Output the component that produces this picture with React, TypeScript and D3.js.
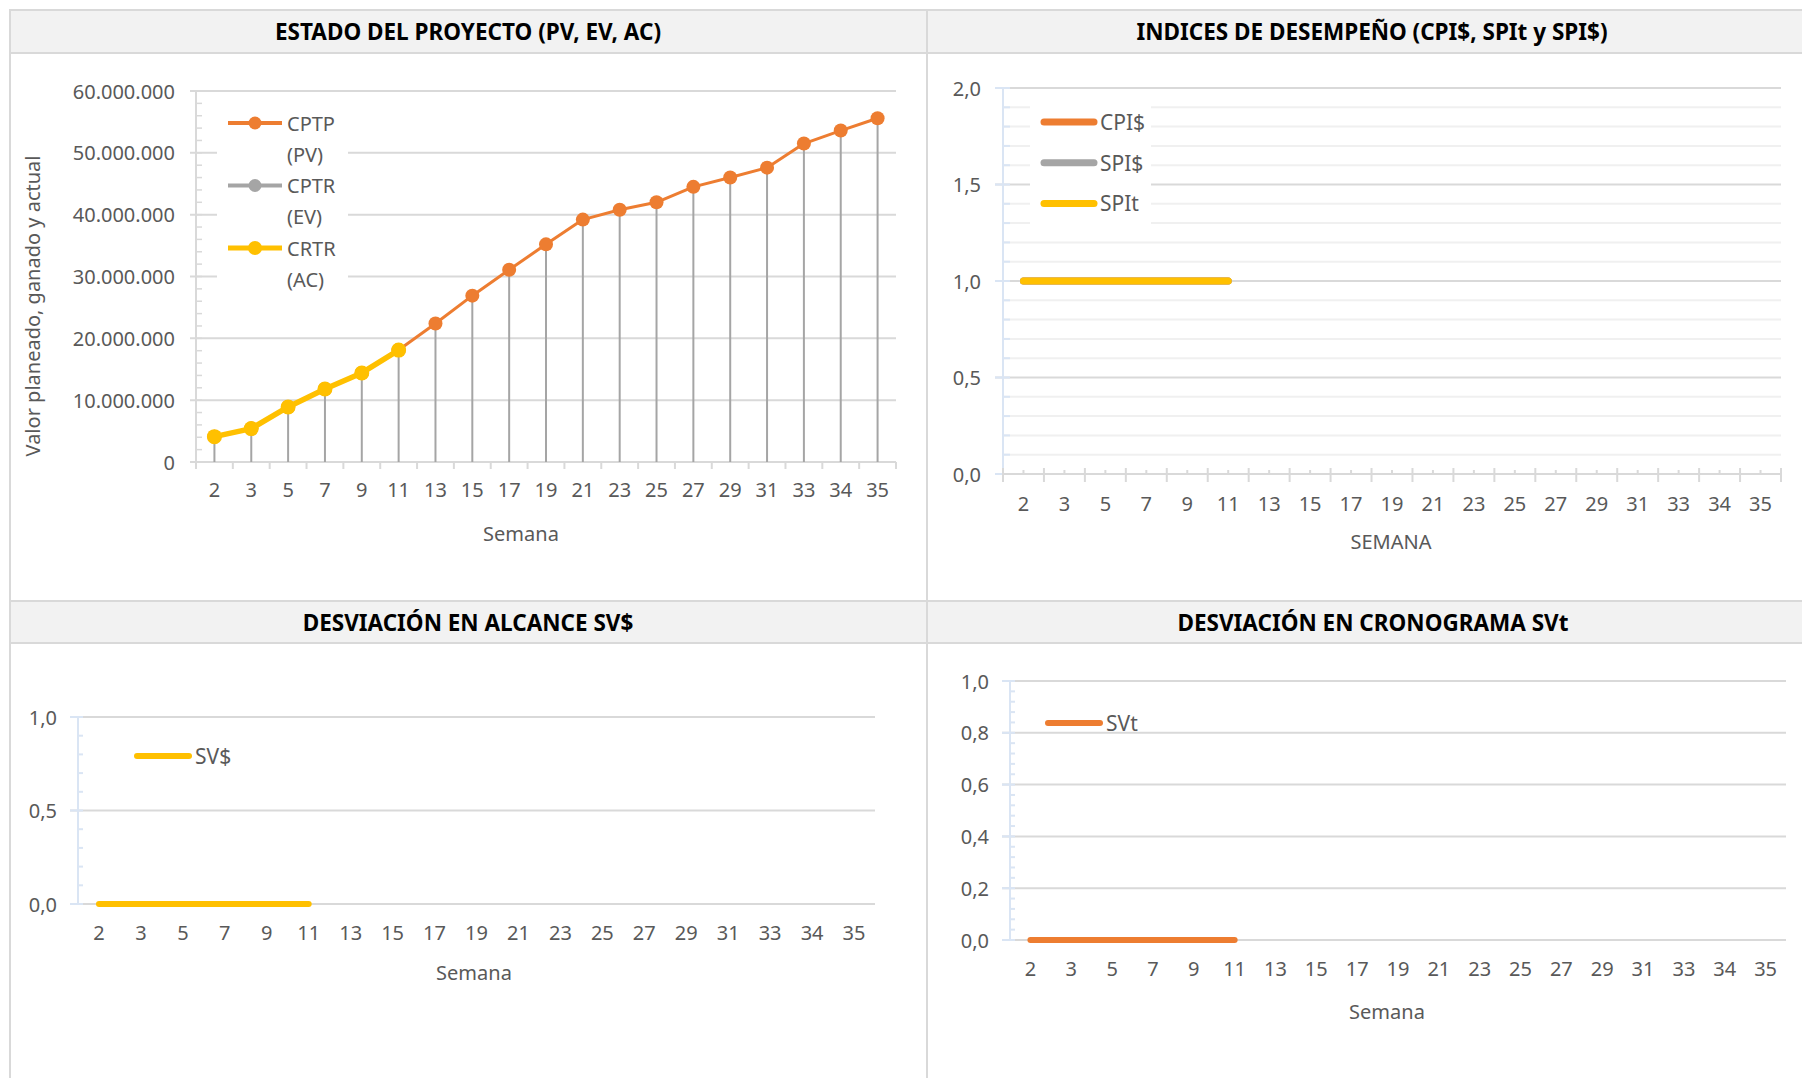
import React from "react";
import * as d3 from "d3";

// Semanas del proyecto
const semanas = ["2", "3", "5", "7", "9", "11", "13", "15", "17", "19", "21", "23", "25", "27", "29", "31", "33", "34", "35"];

// Costo presupuestado del trabajo programado (PV)
const cptpPV = [4.1, 5.4, 8.9, 11.8, 14.4, 18.1, 22.4, 26.9, 31.1, 35.2, 39.2, 40.8, 42.0, 44.5, 46.0, 47.6, 51.5, 53.6, 55.6].map((v) => v * 1e6);
// Costo presupuestado del trabajo realizado (EV)
const cptrEV = [4.1, 5.4, 8.9, 11.8, 14.4, 18.1].map((v) => v * 1e6);
// Costo real del trabajo realizado (AC)
const crtrAC = [4.1, 5.4, 8.9, 11.8, 14.4, 18.1].map((v) => v * 1e6);

// Índices de desempeño
const cpi = [1, 1, 1, 1, 1, 1];
const spiDinero = [1, 1, 1, 1, 1, 1];
const spiTiempo = [1, 1, 1, 1, 1, 1];

// Desviaciones
const svDinero = [0, 0, 0, 0, 0, 0];
const svTiempo = [0, 0, 0, 0, 0, 0];

const yTicksPV = [0, 10e6, 20e6, 30e6, 40e6, 50e6, 60e6];
const yTicksIdx = [0, 0.5, 1, 1.5, 2];
const yTicksSV = [0, 0.5, 1];
const yTicksSVt = [0, 0.2, 0.4, 0.6, 0.8, 1];

const ORANGE = "#ED7D31";
const GRAY = "#A5A5A5";
const YELLOW = "#FFC000";
const GRID = "#D9D9D9";
const MINOR = "#F0F0F0";
const AXISBLUE = "#DAE5F4";
const TEXT = "#595959";
const BORDER = "#D9D9D9";
const FONT = "'Noto Sans', 'DejaVu Sans', sans-serif";

const fmtMiles = (v: number) => d3.format(",.0f")(v).replace(/,/g, ".");
const fmtComa = (v: number) => d3.format(".1f")(v).replace(".", ",");

function Panel({ x, y, w, headerH, title, titleX }: any) {
  return (
    <g>
      <rect x={x} y={y} width={w} height={headerH} fill="#F2F2F2" />
      <line x1={x} x2={x + w} y1={y} y2={y} stroke={BORDER} strokeWidth={2} />
      <line x1={x} x2={x + w} y1={y + headerH} y2={y + headerH} stroke={BORDER} strokeWidth={2} />
      <text x={titleX} y={y + headerH / 2} textAnchor="middle" dominantBaseline="central" fontFamily={FONT} fontWeight={700} fontSize={22.5} fill="#000">
        {title}
      </text>
    </g>
  );
}

function XLabels({ x, yPos }: any) {
  return (
    <g>
      {semanas.map((s) => (
        <text key={s} x={(x(s) as number) + x.bandwidth() / 2} y={yPos} textAnchor="middle" dominantBaseline="central" fontFamily={FONT} fontSize={20} fill={TEXT}>
          {s}
        </text>
      ))}
    </g>
  );
}

function ChartEstado() {
  const x = d3.scaleBand<string>().domain(semanas).range([196, 896]);
  const y = d3.scaleLinear().domain([0, 60e6]).range([462, 91]);
  const cx = (i: number) => (x(semanas[i]) as number) + x.bandwidth() / 2;
  const line = d3.line<number>().x((_, i) => cx(i)).y((d) => y(d));
  const minor = d3.range(0, 60e6 + 1, 2e6);
  const legend = [
    { a: "CPTP", b: "(PV)", c: ORANGE, w: 4, r: 6.5 },
    { a: "CPTR", b: "(EV)", c: GRAY, w: 4, r: 6.5 },
    { a: "CRTR", b: "(AC)", c: YELLOW, w: 5, r: 7 },
  ];
  return (
    <g>
      {yTicksPV.map((t) => (
        <g key={t}>
          <line x1={190} x2={896} y1={y(t)} y2={y(t)} stroke={GRID} strokeWidth={2} />
          <text x={175} y={y(t)} textAnchor="end" dominantBaseline="central" fontFamily={FONT} fontSize={20} fill={TEXT}>
            {fmtMiles(t)}
          </text>
        </g>
      ))}
      {minor.map((t) => (
        <line key={t} x1={196} x2={202} y1={y(t)} y2={y(t)} stroke={GRID} strokeWidth={1.5} />
      ))}
      <line x1={196} x2={196} y1={y(60e6)} y2={y(0)} stroke={GRID} strokeWidth={2} />
      {semanas.map((s) => (
        <line key={s} x1={x(s) as number} x2={x(s) as number} y1={y(0)} y2={y(0) + 7} stroke={GRID} strokeWidth={2} />
      ))}
      <line x1={896} x2={896} y1={y(0)} y2={y(0) + 7} stroke={GRID} strokeWidth={2} />
      {/* líneas de proyección */}
      {cptpPV.map((v, i) => (
        <line key={i} x1={cx(i)} x2={cx(i)} y1={y(v)} y2={y(0)} stroke={GRAY} strokeWidth={2} />
      ))}
      <path d={line(cptpPV) as string} fill="none" stroke={ORANGE} strokeWidth={3} strokeLinejoin="round" />
      {cptpPV.map((v, i) => (
        <circle key={i} cx={cx(i)} cy={y(v)} r={7} fill={ORANGE} />
      ))}
      <path d={line(cptrEV) as string} fill="none" stroke={GRAY} strokeWidth={3} strokeLinejoin="round" />
      {cptrEV.map((v, i) => (
        <circle key={i} cx={cx(i)} cy={y(v)} r={7} fill={GRAY} />
      ))}
      <path d={line(crtrAC) as string} fill="none" stroke={YELLOW} strokeWidth={5.5} strokeLinejoin="round" />
      {crtrAC.map((v, i) => (
        <circle key={i} cx={cx(i)} cy={y(v)} r={7.5} fill={YELLOW} />
      ))}
      <XLabels x={x} yPos={489} />
      <text x={521} y={533} textAnchor="middle" dominantBaseline="central" fontFamily={FONT} fontSize={20} fill={TEXT}>
        Semana
      </text>
      <text transform="translate(32,306) rotate(-90)" textAnchor="middle" dominantBaseline="central" fontFamily={FONT} fontSize={20} fill={TEXT}>
        Valor planeado, ganado y actual
      </text>
      <rect x={217} y={100} width={131} height={195} fill="#fff" />
      {legend.map((l, i) => {
        const ly = 123 + i * 62.5;
        return (
          <g key={l.a}>
            <line x1={228} x2={282} y1={ly} y2={ly} stroke={l.c} strokeWidth={l.w} />
            <circle cx={255} cy={ly} r={l.r} fill={l.c} />
            <text x={287} y={ly} dominantBaseline="central" fontFamily={FONT} fontSize={20} fill={TEXT}>
              {l.a}
            </text>
            <text x={287} y={ly + 31} dominantBaseline="central" fontFamily={FONT} fontSize={20} fill={TEXT}>
              {l.b}
            </text>
          </g>
        );
      })}
    </g>
  );
}

function ChartIndices() {
  const x = d3.scaleBand<string>().domain(semanas).range([1003, 1781]);
  const y = d3.scaleLinear().domain([0, 2]).range([474, 88]);
  const cx = (i: number) => (x(semanas[i]) as number) + x.bandwidth() / 2;
  const line = d3.line<number>().x((_, i) => cx(i)).y((d) => y(d));
  const minor = d3.range(0, 21).map((k) => k / 10);
  const legend = [
    { n: "CPI$", c: ORANGE },
    { n: "SPI$", c: GRAY },
    { n: "SPIt", c: YELLOW },
  ];
  return (
    <g>
      {minor.filter((_, k) => k % 5 !== 0).map((t) => (
        <line key={t} x1={1003} x2={1781} y1={y(t)} y2={y(t)} stroke={MINOR} strokeWidth={2} />
      ))}
      {yTicksIdx.map((t) => (
        <g key={t}>
          <line x1={995} x2={1781} y1={y(t)} y2={y(t)} stroke={GRID} strokeWidth={2} />
          <text x={981} y={y(t)} textAnchor="end" dominantBaseline="central" fontFamily={FONT} fontSize={20} fill={TEXT}>
            {fmtComa(t)}
          </text>
        </g>
      ))}
      {minor.map((t) => (
        <line key={t} x1={1003} x2={1010} y1={y(t)} y2={y(t)} stroke={AXISBLUE} strokeWidth={2} />
      ))}
      <line x1={1003} x2={1003} y1={y(2)} y2={y(0)} stroke={AXISBLUE} strokeWidth={2} />
      {yTicksIdx.map((t) => (
        <line key={t} x1={995} x2={1003} y1={y(t)} y2={y(t)} stroke={AXISBLUE} strokeWidth={2} />
      ))}
      <line x1={1003} x2={1781} y1={y(0)} y2={y(0)} stroke={GRID} strokeWidth={2} />
      {semanas.map((s, i) => (
        <g key={s}>
          <line x1={x(s) as number} x2={x(s) as number} y1={y(0) - 6} y2={y(0) + 8} stroke={GRID} strokeWidth={2} />
          <line x1={cx(i)} x2={cx(i)} y1={y(0) - 4} y2={y(0)} stroke={GRID} strokeWidth={2} />
        </g>
      ))}
      <line x1={1781} x2={1781} y1={y(0) - 6} y2={y(0) + 8} stroke={GRID} strokeWidth={2} />
      <path d={line(cpi) as string} fill="none" stroke={ORANGE} strokeWidth={7} strokeLinecap="round" />
      <path d={line(spiDinero) as string} fill="none" stroke={GRAY} strokeWidth={7} strokeLinecap="round" />
      <path d={line(spiTiempo) as string} fill="none" stroke={YELLOW} strokeWidth={7} strokeLinecap="round" />
      <XLabels x={x} yPos={503} />
      <text x={1391} y={541} textAnchor="middle" dominantBaseline="central" fontFamily={FONT} fontSize={20} fill={TEXT}>
        SEMANA
      </text>
      <rect x={1030} y={102} width={121} height={126} fill="#fff" />
      {legend.map((l, i) => {
        const ly = 122 + i * 40.7;
        return (
          <g key={l.n}>
            <line x1={1044} x2={1094} y1={ly} y2={ly} stroke={l.c} strokeWidth={7} strokeLinecap="round" />
            <text x={1100} y={ly} dominantBaseline="central" fontFamily={FONT} fontSize={21} fill={TEXT}>
              {l.n}
            </text>
          </g>
        );
      })}
    </g>
  );
}

function ChartSV({ x0, x1, y0, y1, ticks, minorStep, serie, color, name, legX, legY, xLabY, axisTitleX, axisTitleY, fmt }: any) {
  const x = d3.scaleBand<string>().domain(semanas).range([x0, x1]);
  const y = d3.scaleLinear().domain([0, 1]).range([y0, y1]);
  const cx = (i: number) => (x(semanas[i]) as number) + x.bandwidth() / 2;
  const line = d3.line<number>().x((_, i) => cx(i)).y((d) => y(d));
  const minor = d3.range(0, Math.round(1 / minorStep) + 1).map((k) => k * minorStep);
  return (
    <g>
      {ticks.map((t: number) => (
        <g key={t}>
          <line x1={x0 - 8} x2={x1} y1={y(t)} y2={y(t)} stroke={GRID} strokeWidth={2} />
          <text x={x0 - 21} y={y(t)} textAnchor="end" dominantBaseline="central" fontFamily={FONT} fontSize={20} fill={TEXT}>
            {fmt(t)}
          </text>
        </g>
      ))}
      <line x1={x0} x2={x0} y1={y1} y2={y0} stroke={AXISBLUE} strokeWidth={2} />
      {minor.map((t: number) => (
        <line key={t} x1={x0} x2={x0 + 5} y1={y(t)} y2={y(t)} stroke={AXISBLUE} strokeWidth={2} />
      ))}
      {ticks.map((t: number) => (
        <line key={t} x1={x0 - 8} x2={x0} y1={y(t)} y2={y(t)} stroke={AXISBLUE} strokeWidth={2} />
      ))}
      <path d={line(serie) as string} fill="none" stroke={color} strokeWidth={6} strokeLinecap="round" />
      <XLabels x={x} yPos={xLabY} />
      <text x={axisTitleX} y={axisTitleY} textAnchor="middle" dominantBaseline="central" fontFamily={FONT} fontSize={20} fill={TEXT}>
        Semana
      </text>
      <line x1={legX} x2={legX + 52} y1={legY} y2={legY} stroke={color} strokeWidth={6} strokeLinecap="round" />
      <text x={legX + 58} y={legY} dominantBaseline="central" fontFamily={FONT} fontSize={21} fill={TEXT}>
        {name}
      </text>
    </g>
  );
}

export default function App() {
  return (
    <svg width={1802} height={1078} style={{ position: "absolute", left: 0, top: 0, background: "#fff" }}>
      <rect width={1802} height={1078} fill="#fff" />
      <Panel x={10} y={10} w={917} headerH={43} title="ESTADO DEL PROYECTO (PV, EV, AC)" titleX={468} />
      <Panel x={927} y={10} w={875} headerH={43} title="INDICES DE DESEMPEÑO (CPI$, SPIt y SPI$)" titleX={1372} />
      <Panel x={10} y={601} w={917} headerH={42} title="DESVIACIÓN EN ALCANCE SV$" titleX={468} />
      <Panel x={927} y={601} w={875} headerH={42} title="DESVIACIÓN EN CRONOGRAMA SVt" titleX={1373} />
      <line x1={10} x2={10} y1={9} y2={1078} stroke={BORDER} strokeWidth={2} />
      <line x1={927} x2={927} y1={9} y2={1078} stroke={BORDER} strokeWidth={2} />
      <ChartEstado />
      <ChartIndices />
      <ChartSV x0={78} x1={875} y0={904} y1={717} ticks={yTicksSV} minorStep={0.1} serie={svDinero} color={YELLOW} name="SV$" legX={137} legY={756} xLabY={932} axisTitleX={474} axisTitleY={972} fmt={fmtComa} />
      <ChartSV x0={1010} x1={1786} y0={940} y1={681} ticks={yTicksSVt} minorStep={0.04} serie={svTiempo} color={ORANGE} name="SVt" legX={1048} legY={723} xLabY={968} axisTitleX={1387} axisTitleY={1011} fmt={fmtComa} />
    </svg>
  );
}
